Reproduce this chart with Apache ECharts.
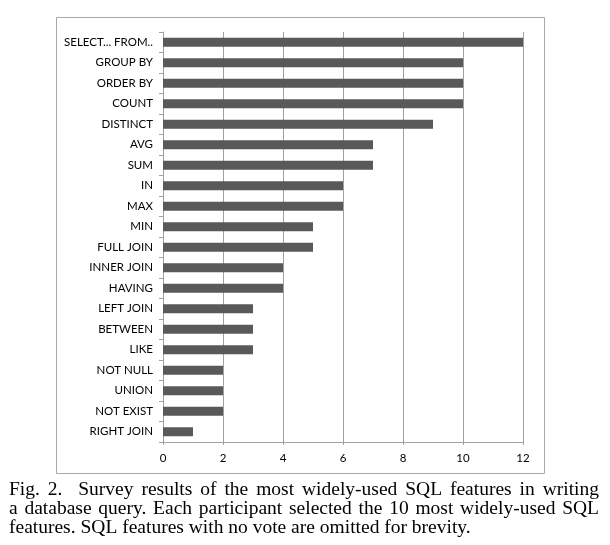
<!DOCTYPE html>
<html>
<head>
<meta charset="utf-8">
<script src="https://cdn.jsdelivr.net/npm/echarts@6/dist/echarts.min.js"></script>
<style>
  html, body { margin: 0; padding: 0; background: #fff; }
  #main { width: 610px; height: 545px; }
</style>
</head>
<body>
<div id="main"></div>
<script>
// survey votes per SQL feature, top to bottom
const features = ['SELECT... FROM..', 'GROUP BY', 'ORDER BY', 'COUNT', 'DISTINCT', 'AVG', 'SUM', 'IN', 'MAX', 'MIN',
  'FULL JOIN', 'INNER JOIN', 'HAVING', 'LEFT JOIN', 'BETWEEN', 'LIKE', 'NOT NULL', 'UNION', 'NOT EXIST', 'RIGHT JOIN'];
const votes = [12, 10, 10, 10, 9, 7, 7, 6, 6, 5, 5, 4, 4, 3, 3, 3, 2, 2, 2, 1];
const xTicks = [0, 2, 4, 6, 8, 10, 12];

const captionLines = [
  'Fig. 2.  Survey results of the most widely-used SQL features in writing',
  'a database query. Each participant selected the 10 most widely-used SQL',
  'features. SQL features with no vote are omitted for brevity.'
];

const chart = echarts.init(document.getElementById('main'));

// caption words, justified on every line but the last
// (a double space counts as two gaps)
const capFont = '19.5px "Liberation Serif"';
const measure = document.createElement('canvas').getContext('2d');
measure.font = capFont;
const capLeft = 9, capRight = 599;
let captionEls = [];
captionLines.forEach((line, i) => {
  const y = 490 + i * 19;
  if (i === captionLines.length - 1) {
    captionEls.push({
      type: 'text',
      style: { x: capLeft, y: y, text: line, font: capFont, fill: '#000', verticalAlign: 'middle' }
    });
    return;
  }
  const words = line.split(' ');
  const widths = words.map(w => measure.measureText(w).width);
  const total = widths.reduce((a, b) => a + b, 0);
  const gap = (capRight - capLeft - total) / (words.length - 1);
  let x = capLeft;
  words.forEach((w, k) => {
    if (w) {
      captionEls.push({
        type: 'text',
        style: { x: x, y: y, text: w, font: capFont, fill: '#000', verticalAlign: 'middle' }
      });
    }
    x += widths[k] + gap;
  });
});

const option = {
  animation: false,
  grid: { left: 163, right: 87, top: 32, bottom: 103 },
  xAxis: {
    type: 'value',
    min: 0,
    max: 12,
    interval: 2,
    axisLine: { show: true, lineStyle: { color: '#a0a0a0', width: 1 } },
    axisTick: { show: true, length: 3, lineStyle: { color: '#a0a0a0' } },
    splitLine: { show: true, lineStyle: { color: '#a0a0a0', width: 1 } },
    axisLabel: {
      margin: 10,
      color: '#000',
      fontFamily: 'Lato',
      fontSize: 11.5,
      formatter: v => xTicks.includes(v) ? String(v) : ''
    }
  },
  yAxis: {
    type: 'category',
    data: features,
    inverse: true,
    axisLine: { show: true, lineStyle: { color: '#a0a0a0', width: 1 } },
    axisTick: { show: true, length: 4, lineStyle: { color: '#a0a0a0' } },
    axisLabel: {
      margin: 10,
      color: '#000',
      fontFamily: 'Lato',
      fontSize: 11.5
    }
  },
  series: [{
    type: 'bar',
    data: votes,
    barWidth: 9,
    itemStyle: { color: '#595959' }
  }],
  graphic: [
    {
      type: 'rect',
      shape: { x: 56.5, y: 17.5, width: 488, height: 456 },
      style: { fill: 'none', stroke: '#a8a8a8', lineWidth: 1 },
      z: -1
    },
    ...captionEls
  ]
};

chart.setOption(option);
</script>
</body>
</html>
